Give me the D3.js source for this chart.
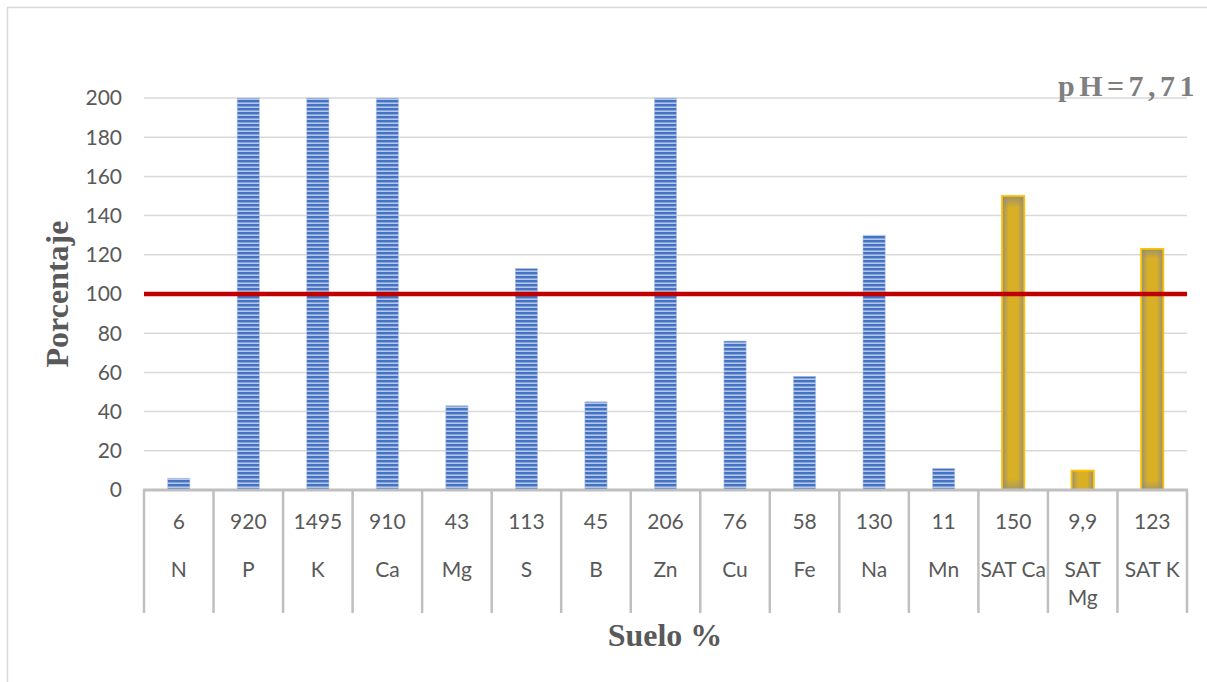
<!DOCTYPE html>
<html>
<head>
<meta charset="utf-8">
<script src="https://cdn.jsdelivr.net/npm/d3@7"></script>
<style>
  html, body { margin: 0; padding: 0; background: #fff; }
  svg { display: block; }
</style>
</head>
<body>
<svg id="chart" width="1207" height="682"></svg>
<script>
// Soil analysis: percentage of each nutrient relative to the optimum (100 %)
const categories = ["N", "P", "K", "Ca", "Mg", "S", "B", "Zn", "Cu", "Fe", "Na", "Mn", "SAT Ca", "SAT Mg", "SAT K"];
const values = [6, 920, 1495, 910, 43, 113, 45, 206, 76, 58, 130, 11, 150, 9.9, 123];
const valueLabels = ["6", "920", "1495", "910", "43", "113", "45", "206", "76", "58", "130", "11", "150", "9,9", "123"];
const yTicks = [0, 20, 40, 60, 80, 100, 120, 140, 160, 180, 200];
const referenceLevel = 100;
const phLabel = "pH=7,71";

const svg = d3.select("#chart");
const plot = { left: 144, right: 1187, top: 98, bottom: 490 };

const x = d3.scaleBand()
  .domain(categories)
  .range([plot.left, plot.right])
  .paddingInner(0.68)
  .paddingOuter(0.34);

const y = d3.scaleLinear()
  .domain([0, 200])
  .range([plot.bottom, plot.top])
  .clamp(true);

// Outer chart frame
svg.append("rect")
  .attr("x", 7.5).attr("y", 7.5)
  .attr("width", 1230).attr("height", 700)
  .attr("fill", "none")
  .attr("stroke", "#d9d9d9")
  .attr("stroke-width", 1.5);

// Fills: striped blue for nutrients, golden glow for saturations
const defs = svg.append("defs");
const stripes = defs.append("pattern")
  .attr("id", "stripes")
  .attr("patternUnits", "userSpaceOnUse")
  .attr("width", 8).attr("height", 4);
stripes.append("rect").attr("width", 8).attr("height", 4).attr("fill", "#b4c7e7");
stripes.append("rect").attr("width", 8).attr("height", 2.4).attr("fill", "#4472c4");

const goldH = defs.append("linearGradient").attr("id", "goldH")
  .attr("x1", "0%").attr("x2", "100%").attr("y1", "0%").attr("y2", "0%");
[["0%", "#948f7c"], ["30%", "#d9b025"], ["70%", "#d9b025"], ["100%", "#948f7c"]]
  .forEach(([o, c]) => goldH.append("stop").attr("offset", o).attr("stop-color", c));
const goldV = defs.append("linearGradient").attr("id", "goldV")
  .attr("x1", "0%").attr("x2", "0%").attr("y1", "0%").attr("y2", "100%");
[["0%", "#8c8a80", 0.8], ["4%", "#8c8a80", 0], ["96%", "#8c8a80", 0], ["100%", "#8c8a80", 0.6]]
  .forEach(([o, c, a]) => goldV.append("stop").attr("offset", o).attr("stop-color", c).attr("stop-opacity", a));

// Horizontal gridlines
svg.append("g")
  .selectAll("line")
  .data(yTicks.filter(t => t > 0))
  .join("line")
  .attr("x1", plot.left).attr("x2", plot.right)
  .attr("y1", d => y(d)).attr("y2", d => y(d))
  .attr("stroke", "#d9d9d9")
  .attr("stroke-width", 1.5);

const labelFont = "Lato, 'Open Sans', sans-serif";
const labelSize = 21;

// Y tick labels
svg.append("g")
  .selectAll("text")
  .data(yTicks)
  .join("text")
  .attr("x", 122)
  .attr("y", d => y(d))
  .attr("dy", "0.35em")
  .attr("text-anchor", "end")
  .attr("font-family", labelFont)
  .attr("font-size", labelSize)
  .attr("fill", "#595959")
  .text(d => d);

// Bars
const isSat = c => c.startsWith("SAT");
const bars = svg.append("g");
categories.forEach((c, i) => {
  const x0 = x(c), w = x.bandwidth();
  const y0 = y(values[i]), h = plot.bottom - y0;
  if (isSat(c)) {
    bars.append("rect").attr("x", x0).attr("y", y0).attr("width", w).attr("height", h)
      .attr("fill", "url(#goldH)");
    bars.append("rect").attr("x", x0).attr("y", y0).attr("width", w).attr("height", h)
      .attr("fill", "url(#goldV)");
    bars.append("rect").attr("x", x0).attr("y", y0).attr("width", w).attr("height", h)
      .attr("fill", "none").attr("stroke", "#ffc000").attr("stroke-width", 1.8);
  } else {
    bars.append("rect").attr("x", x0).attr("y", y0).attr("width", w).attr("height", h)
      .attr("fill", "url(#stripes)")
      .attr("stroke", "#b4c7e7").attr("stroke-width", 0.8).attr("stroke-opacity", 0.7);
  }
});

// Reference line at 100 %
svg.append("line")
  .attr("x1", plot.left).attr("x2", plot.right)
  .attr("y1", y(referenceLevel)).attr("y2", y(referenceLevel))
  .attr("stroke", "#c00000")
  .attr("stroke-width", 4.5);

// Category axis with two label levels
const step = x.step();
const axisG = svg.append("g");
d3.range(categories.length + 1).forEach(i => {
  const xs = plot.left + i * step;
  axisG.append("line")
    .attr("x1", xs).attr("x2", xs)
    .attr("y1", plot.bottom).attr("y2", 613)
    .attr("stroke", "#bfbfbf").attr("stroke-width", 2.5);
});
axisG.append("line")
  .attr("x1", plot.left - 1).attr("x2", plot.right + 1)
  .attr("y1", plot.bottom).attr("y2", plot.bottom)
  .attr("stroke", "#bfbfbf").attr("stroke-width", 3);

categories.forEach((c, i) => {
  const cx = x(c) + x.bandwidth() / 2;
  axisG.append("text")
    .attr("x", cx).attr("y", 522).attr("dy", "0.35em")
    .attr("text-anchor", "middle")
    .attr("font-family", labelFont).attr("font-size", labelSize)
    .attr("fill", "#595959")
    .text(valueLabels[i]);
  const words = c === "SAT Mg" ? ["SAT", "Mg"] : [c];
  words.forEach((wd, k) => {
    axisG.append("text")
      .attr("x", cx).attr("y", 570 + k * 28).attr("dy", "0.35em")
      .attr("text-anchor", "middle")
      .attr("font-family", labelFont).attr("font-size", labelSize)
      .attr("fill", "#595959")
      .text(wd);
  });
});

// Axis titles
svg.append("text")
  .attr("transform", "translate(68,294) rotate(-90)")
  .attr("text-anchor", "middle")
  .attr("font-family", "'Liberation Serif', 'Times New Roman', serif")
  .attr("font-weight", "bold")
  .attr("font-size", 32)
  .attr("fill", "#595959")
  .text("Porcentaje");

svg.append("text")
  .attr("x", 665).attr("y", 646)
  .attr("text-anchor", "middle")
  .attr("font-family", "'Liberation Serif', 'Times New Roman', serif")
  .attr("font-weight", "bold")
  .attr("font-size", 32)
  .attr("fill", "#595959")
  .text("Suelo %");

// pH annotation
svg.append("text")
  .attr("x", 1058).attr("y", 96)
  .attr("font-family", "'Liberation Serif', 'Times New Roman', serif")
  .attr("font-weight", "bold")
  .attr("font-size", 30)
  .attr("letter-spacing", 4.5)
  .attr("fill", "#7f7f7f")
  .text(phLabel);
</script>
</body>
</html>
